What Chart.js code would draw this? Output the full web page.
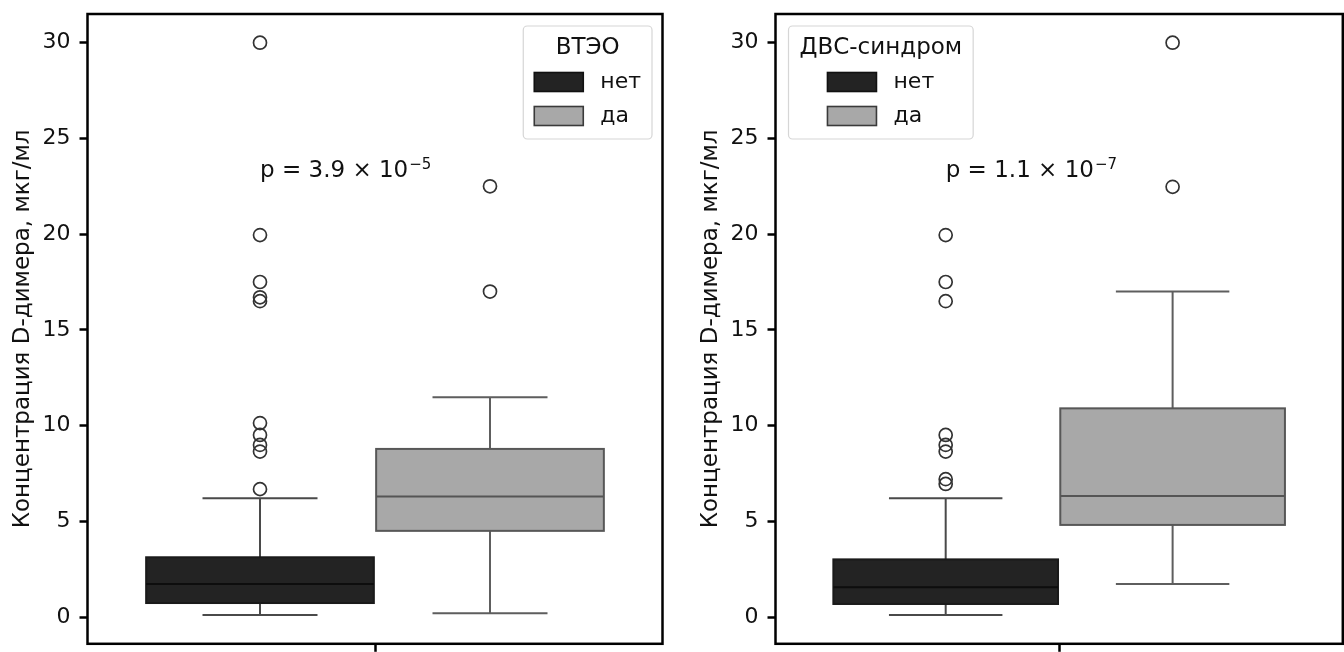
<!DOCTYPE html>
<html>
<head>
<meta charset="utf-8">
<script src="https://cdn.jsdelivr.net/npm/chart.js@4.4.1/dist/chart.umd.min.js"></script>
<style>
  html, body { margin: 0; padding: 0; background: #fff; overflow: hidden; width: 1344px; height: 652px; }
  #c1 { position: absolute; left: 0; top: 0; }
  #c2 { position: absolute; left: 688px; top: 0; }
</style>
</head>
<body>
<canvas id="c1" width="672" height="652"></canvas>
<canvas id="c2" width="663" height="652"></canvas>
<script>
// данные
const groups = ['нет', 'да'];
const yTicks = [0, 5, 10, 15, 20, 25, 30];
const yLabel = 'Концентрация D-димера, мкг/мл';

// [нижний ус, Q1, медиана, Q3, верхний ус]
const vteoNo = [0.1, 0.73, 1.72, 3.12, 6.2];
const vteoYes = [0.2, 4.5, 6.3, 8.78, 11.48];
const vteoNoOut = [6.68, 8.64, 8.99, 9.51, 10.13, 16.5, 16.7, 17.5, 19.95, 30.0];
const vteoYesOut = [17.0, 22.5];
const vteoP = ['p = 3.9 × 10', '−5'];

const dvsNo = [0.1, 0.68, 1.55, 3.01, 6.2];
const dvsYes = [1.72, 4.81, 6.32, 10.9, 17.0];
const dvsNoOut = [6.95, 7.2, 8.64, 8.99, 9.51, 16.5, 17.5, 19.95];
const dvsYesOut = [22.47, 30.0];
const dvsP = ['p = 1.1 × 10', '−7'];

const FONT = 'DejaVu Sans';
const fills = ['#232323', '#a8a8a8'];
const edges = ['#1a1a1a', '#575757'];
const medians = ['#0d0d0d', '#555555'];
const whiskerColors = ['#4a4a4a', '#5e5e5e'];
const offsets = [-0.2, 0.2];

const boxPlugin = {
  id: 'boxes',
  beforeDatasetsDraw(chart, args, opts) {
    const {ctx} = chart;
    const x = chart.scales.x, y = chart.scales.y;
    opts.stats.forEach((s, i) => {
      const c = offsets[i];
      const x0 = x.getPixelForValue(c - 0.198), x1 = x.getPixelForValue(c + 0.198);
      const xc = x.getPixelForValue(c);
      const cl = x.getPixelForValue(c - 0.1), cr = x.getPixelForValue(c + 0.1);
      const [lo, q1, med, q3, hi] = s.map(v => y.getPixelForValue(v));
      ctx.save();
      ctx.lineWidth = 2;
      ctx.strokeStyle = whiskerColors[i];
      ctx.beginPath();
      ctx.moveTo(xc, q1); ctx.lineTo(xc, lo);
      ctx.moveTo(cl, lo); ctx.lineTo(cr, lo);
      ctx.moveTo(xc, q3); ctx.lineTo(xc, hi);
      ctx.moveTo(cl, hi); ctx.lineTo(cr, hi);
      ctx.stroke();
      ctx.fillStyle = fills[i];
      ctx.fillRect(x0, q3, x1 - x0, q1 - q3);
      ctx.strokeStyle = edges[i];
      ctx.strokeRect(x0, q3, x1 - x0, q1 - q3);
      ctx.strokeStyle = medians[i];
      ctx.beginPath();
      ctx.moveTo(x0, med); ctx.lineTo(x1, med);
      ctx.stroke();
      ctx.restore();
    });
  },
  afterDatasetsDraw(chart, args, opts) {
    const {ctx} = chart;
    const px = chart.scales.x.getPixelForValue(-0.2);
    const py = chart.scales.y.getPixelForValue(23.0);
    ctx.save();
    ctx.fillStyle = '#111';
    ctx.textBaseline = 'alphabetic';
    ctx.font = '23px "' + FONT + '"';
    ctx.fillText(opts.p[0], px, py);
    const w = ctx.measureText(opts.p[0]).width;
    ctx.font = '15px "' + FONT + '"';
    ctx.fillText(opts.p[1], px + w + 1, py - 8);
    ctx.restore();
  },
  afterDraw(chart, args, opts) {
    const {ctx, chartArea: a} = chart;
    ctx.save();
    ctx.strokeStyle = '#000';
    ctx.lineWidth = 2.5;
    ctx.strokeRect(a.left, a.top, a.right - a.left, a.bottom - a.top);

    // легенда
    ctx.font = '23px "' + FONT + '"';
    const tw = ctx.measureText(opts.legendTitle).width;
    ctx.font = '22px "' + FONT + '"';
    const lw = Math.max(...groups.map(g => ctx.measureText(g).width));
    const content = 49 + 17 + lw;
    const inner = Math.max(tw, content);
    const W = inner + 22, H = 113;
    const L = opts.legendLeft ? a.left + 13 : a.right - 10.5 - W;
    const T = a.top + 12;
    ctx.beginPath();
    ctx.roundRect(L, T, W, H, 4);
    ctx.fillStyle = 'rgba(255,255,255,0.85)';
    ctx.fill();
    ctx.lineWidth = 1.2;
    ctx.strokeStyle = '#d6d6d6';
    ctx.stroke();
    ctx.fillStyle = '#111';
    ctx.textBaseline = 'middle';
    ctx.textAlign = 'center';
    ctx.font = '23px "' + FONT + '"';
    ctx.fillText(opts.legendTitle, L + W / 2, T + 22);
    ctx.textAlign = 'left';
    ctx.font = '22px "' + FONT + '"';
    const sx = L + (W - content) / 2;
    groups.forEach((g, i) => {
      const cy = T + 56 + i * 34;
      ctx.fillStyle = fills[i];
      ctx.fillRect(sx, cy - 9.5, 49, 19);
      ctx.lineWidth = 1.6;
      ctx.strokeStyle = i === 0 ? '#111' : '#3a3a3a';
      ctx.strokeRect(sx, cy - 9.5, 49, 19);
      ctx.fillStyle = '#111';
      ctx.fillText(g, sx + 66, cy);
    });
    ctx.restore();
  }
};

function makeChart(id, stats, outNo, outYes, p, legendTitle, legendLeft, padRight) {
  return new Chart(document.getElementById(id), {
    type: 'scatter',
    data: {
      datasets: [
        { label: groups[0], data: outNo.map(v => ({x: offsets[0], y: v})) },
        { label: groups[1], data: outYes.map(v => ({x: offsets[1], y: v})) }
      ]
    },
    options: {
      responsive: false,
      animation: false,
      layout: { padding: { top: 14, right: padRight, left: 0, bottom: 0 } },
      elements: {
        point: {
          pointStyle: 'circle',
          radius: 6.5,
          borderWidth: 1.7,
          borderColor: '#333',
          backgroundColor: 'rgba(255,255,255,0)'
        }
      },
      scales: {
        x: {
          type: 'linear',
          min: -0.5,
          max: 0.5,
          afterBuildTicks: s => { s.ticks = [{value: 0}]; },
          afterFit: s => { s.height = 8; s.paddingLeft = 0; s.paddingRight = 0; },
          ticks: { display: false },
          border: { display: false },
          grid: { drawOnChartArea: false, tickLength: 8, tickWidth: 2.5, tickColor: '#000' }
        },
        y: {
          min: -1.4,
          max: 31.5,
          afterBuildTicks: s => { s.ticks = yTicks.map(v => ({value: v})); },
          afterFit: s => { s.width = 87.5; s.paddingTop = 0; s.paddingBottom = 0; },
          ticks: {
            color: '#111',
            padding: 9,
            font: { family: FONT, size: 22 }
          },
          border: { display: false },
          grid: { drawOnChartArea: false, tickLength: 8, tickWidth: 2.5, tickColor: '#000' },
          title: {
            display: true,
            text: yLabel,
            color: '#111',
            font: { family: FONT, size: 23 },
            padding: { top: 9, bottom: 0 }
          }
        }
      },
      plugins: {
        legend: { display: false },
        tooltip: { enabled: false },
        boxes: { stats: stats, p: p, legendTitle: legendTitle, legendLeft: legendLeft }
      }
    },
    plugins: [boxPlugin]
  });
}

makeChart('c1', [vteoNo, vteoYes], vteoNoOut, vteoYesOut, vteoP, 'ВТЭО', false, 9.5);
makeChart('c2', [dvsNo, dvsYes], dvsNoOut, dvsYesOut, dvsP, 'ДВС-синдром', true, 0);
</script>
</body>
</html>
